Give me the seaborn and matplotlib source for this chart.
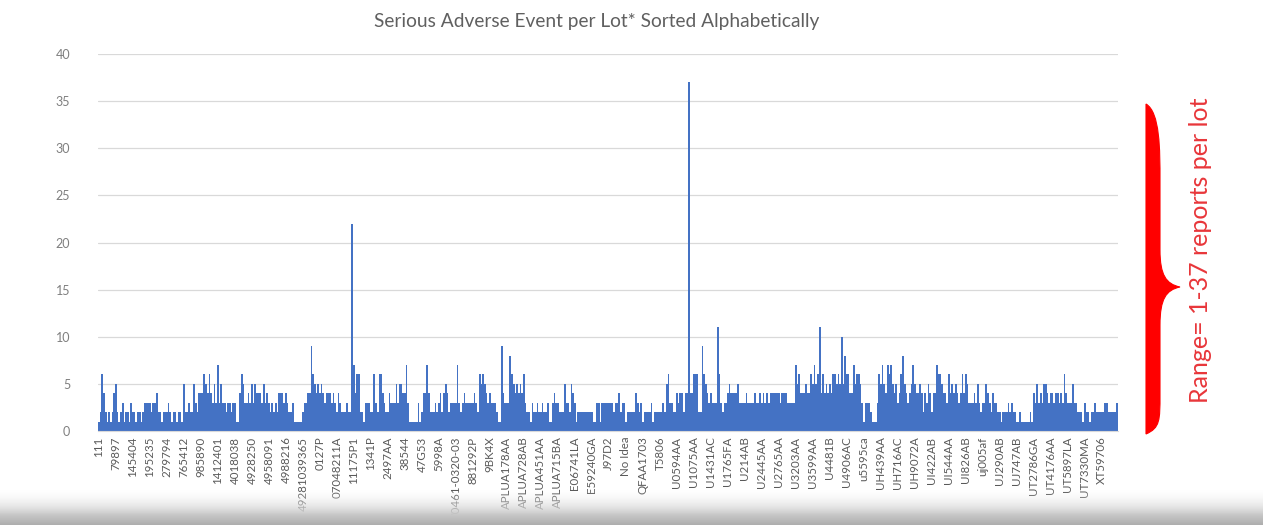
import numpy as np
import pandas as pd
import matplotlib
matplotlib.use("Agg")
import matplotlib.pyplot as plt
from matplotlib.path import Path
from matplotlib.patches import PathPatch
import seaborn as sns

# Reports per lot in runs of ten lots (one tick label per run)
reports = [
    1, 2, 6, 4, 2, 1, 2, 1, 2, 4,
    5, 2, 1, 2, 3, 1, 2, 2, 1, 3,
    2, 2, 1, 2, 2, 1, 2, 3, 3, 3,
    3, 2, 3, 3, 4, 2, 2, 1, 2, 2,
    2, 3, 2, 1, 2, 2, 1, 2, 2, 1,
    5, 2, 2, 3, 2, 2, 5, 3, 2, 4,
    4, 4, 6, 5, 4, 6, 4, 3, 5, 3,
    7, 3, 5, 3, 3, 2, 3, 3, 2, 3,
    3, 1, 1, 4, 6, 5, 3, 3, 4, 3,
    5, 3, 5, 4, 4, 4, 3, 5, 3, 4,
    3, 2, 3, 2, 3, 2, 4, 4, 4, 3,
    4, 3, 2, 2, 3, 1, 1, 1, 1, 1,
    2, 3, 3, 4, 4, 9, 6, 5, 4, 5,
    4, 5, 4, 3, 4, 4, 4, 3, 4, 3,
    2, 4, 3, 2, 2, 2, 3, 2, 2, 22,
    7, 4, 6, 6, 2, 2, 1, 3, 3, 3,
    2, 2, 6, 3, 2, 6, 6, 4, 3, 2,
    2, 4, 3, 3, 3, 5, 3, 5, 5, 4,
    4, 7, 3, 1, 1, 1, 1, 1, 3, 1,
    2, 4, 4, 7, 4, 2, 2, 2, 3, 2,
    3, 4, 2, 4, 5, 4, 2, 3, 3, 3,
    3, 7, 3, 2, 3, 4, 3, 3, 3, 3,
    3, 4, 3, 2, 6, 5, 6, 5, 4, 3,
    4, 3, 3, 3, 2, 1, 1, 9, 4, 3,
    3, 3, 8, 6, 5, 4, 5, 4, 5, 4,
    6, 3, 2, 2, 1, 3, 2, 2, 3, 2,
    2, 3, 2, 2, 3, 1, 1, 3, 4, 3,
    3, 2, 2, 2, 5, 3, 3, 2, 5, 4,
    3, 1, 2, 2, 2, 2, 2, 2, 2, 2,
    2, 1, 1, 3, 3, 1, 3, 3, 3, 3,
    3, 3, 3, 2, 3, 3, 4, 2, 3, 3,
    1, 2, 2, 2, 2, 2, 4, 3, 2, 3,
    1, 2, 2, 2, 2, 3, 1, 2, 2, 2,
    2, 2, 3, 2, 5, 6, 3, 3, 2, 2,
    4, 3, 4, 4, 2, 4, 4, 37, 4, 4,
    6, 6, 6, 2, 2, 9, 6, 5, 4, 3,
    4, 3, 3, 3, 11, 6, 3, 2, 3, 3,
    4, 5, 4, 4, 4, 4, 5, 3, 3, 3,
    3, 4, 3, 3, 3, 3, 4, 3, 3, 4,
    3, 4, 3, 4, 3, 4, 4, 4, 4, 4,
    4, 3, 4, 4, 4, 3, 3, 3, 3, 3,
    7, 5, 6, 4, 4, 4, 5, 4, 4, 6,
    5, 7, 5, 6, 11, 4, 6, 4, 5, 4,
    5, 4, 6, 6, 5, 6, 5, 10, 5, 8,
    6, 6, 4, 4, 7, 5, 6, 6, 5, 3,
    1, 3, 3, 3, 2, 1, 1, 1, 3, 6,
    5, 7, 5, 4, 7, 6, 7, 5, 4, 5,
    3, 4, 6, 8, 5, 4, 3, 4, 5, 7,
    5, 4, 4, 5, 4, 2, 4, 3, 5, 4,
    2, 4, 4, 7, 6, 6, 5, 4, 4, 3,
    6, 4, 5, 4, 5, 4, 3, 4, 6, 4,
    6, 5, 3, 3, 3, 4, 3, 5, 3, 2,
    3, 3, 5, 4, 3, 2, 4, 3, 3, 2,
    2, 1, 2, 2, 2, 3, 2, 3, 2, 2,
    1, 1, 2, 1, 1, 1, 1, 1, 2, 1,
    4, 3, 5, 3, 4, 3, 5, 5, 4, 3,
    4, 4, 3, 4, 4, 3, 4, 3, 6, 4,
    3, 3, 3, 5, 3, 3, 2, 2, 2, 1,
    3, 2, 2, 1, 2, 2, 3, 2, 2, 2,
    2, 2, 3, 3, 2, 2, 2, 2, 2, 3,
]

# Lot names shown on the axis (every tenth lot)
tick_labels = [
    "111", "79897", "145404", "195235", "279794", "765412", "985890",
    "1412401", "4018038", "4928250", "4958091", "4988216", "49281039365",
    "0127P", "07048211A", "11175P1", "1341P", "2497AA", "38544", "47G53",
    "5998A", "70461-0320-03", "881292P", "9BK4X", "APLUA178AA", "APLUA728AB",
    "APLUA451AA", "APLUA715BA", "E06741LA", "E59240GA", "J97D2", "No Idea",
    "QFAA1703", "T5806", "U0594AA", "U1075AA", "U1431AC", "U1765FA",
    "U214AB", "U2445AA", "U2765AA", "U3203AA", "U3599AA", "U4481B",
    "U4906AC", "u5595ca", "UH439AA", "UH716AC", "UH9072A", "UI422AB",
    "UI544AA", "UI826AB", "uj005af", "UJ290AB", "UJ747AB", "UT2786GA",
    "UT4176AA", "UT5897LA", "UT7330MA", "XT59706",
]
label_every = 10

title = "Serious Adverse Event per Lot* Sorted Alphabetically"
note = "Range= 1-37 reports per lot"

df = pd.DataFrame({"lot": np.arange(len(reports)), "reports": reports})

sns.set_style("white")
plt.rcParams["font.family"] = ["Lato", "DejaVu Sans"]

W, H = 1263, 525
fig = plt.figure(figsize=(W / 100, H / 100), dpi=100)
ax = fig.add_axes([98 / W, 1 - 431 / H, (1118 - 98) / W, (431 - 54) / H])

sns.barplot(data=df, x="lot", y="reports", color="#4472C4", saturation=1,
            width=1.0, linewidth=0, ax=ax)

ax.set_ylim(0, 40)
ax.set_xlim(-0.5, len(reports) - 0.5)
ax.set_yticks(range(0, 41, 5))
ax.yaxis.grid(True, color="#d9d9d9", linewidth=0.9)
ax.set_axisbelow(True)
for s in ["top", "right", "left"]:
    ax.spines[s].set_visible(False)
ax.spines["bottom"].set_color("#d9d9d9")
ax.set_xticks(range(0, len(reports), label_every))
ax.set_xticklabels(tick_labels, rotation=90, fontsize=8.3, color="#595959")
ax.tick_params(axis="y", length=0, pad=20, labelsize=9, labelcolor="#7f7f7f")
ax.tick_params(axis="x", length=0, pad=4)
ax.set_xlabel("")
ax.set_ylabel("")

fig.text(597 / W, 1 - 22 / H, title, ha="center", va="center",
         fontsize=13.8, color="#606060")

# overlay in pixel coordinates for the brace, note and bottom band
ov = fig.add_axes([0, 0, 1, 1])
ov.set_xlim(0, W)
ov.set_ylim(H, 0)
ov.axis("off")

verts = [
    (1146, 104),
    (1160, 112), (1160, 150), (1160, 180),
    (1160, 250),
    (1160, 275), (1166, 284), (1180, 287),
    (1166, 290), (1160, 299), (1160, 325),
    (1160, 395),
    (1160, 420), (1160, 428), (1146, 434),
    (1146, 104),
]
codes = ([Path.MOVETO] + [Path.CURVE4] * 3 + [Path.LINETO] + [Path.CURVE4] * 6
         + [Path.LINETO] + [Path.CURVE4] * 3 + [Path.CLOSEPOLY])
ov.add_patch(PathPatch(Path(verts, codes), facecolor="#ff0000",
                       edgecolor="#ff0000", linewidth=0.8))

ov.text(1201, 250, note, rotation=90, ha="center", va="center",
        fontsize=18, color="#e8363a")

grad = np.linspace(0, 1, 64).reshape(-1, 1)
band = np.zeros((64, 1, 4))
band[..., :3] = (0.93 - 0.25 * grad ** 1.5)[..., None]
band[..., 3] = np.clip(grad * 1.4, 0, 1)
ov.imshow(band, extent=[0, W, 525, 490], aspect="auto", zorder=5)
ov.set_ylim(H, 0)

fig.savefig("out.png", dpi=100)
